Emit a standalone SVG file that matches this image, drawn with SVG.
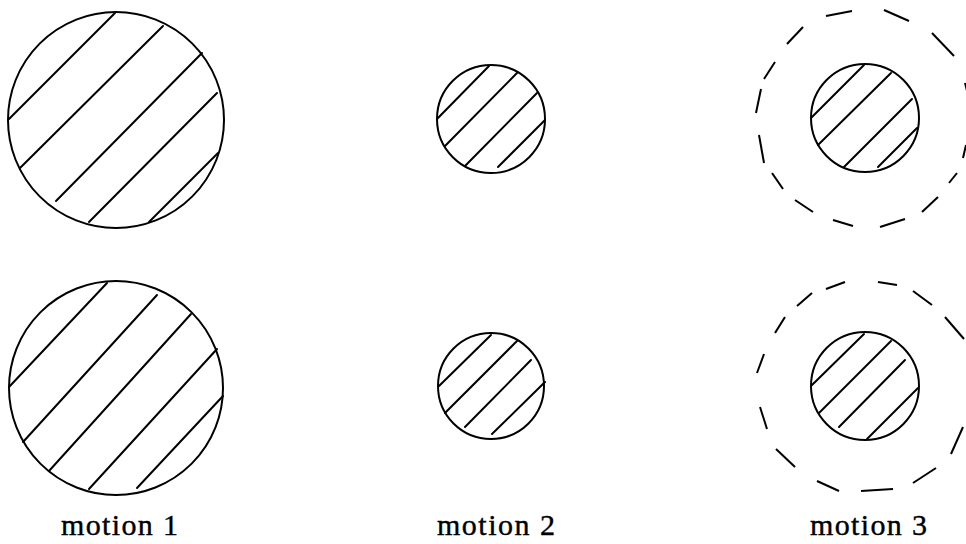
<svg xmlns="http://www.w3.org/2000/svg" width="966" height="544" viewBox="0 0 966 544">
<style>
.c{fill:none;stroke:#000;stroke-width:2}
.h line{stroke:#000;stroke-width:2;stroke-linecap:round}
.d line{stroke:#000;stroke-width:2;stroke-linecap:butt}
.t{font-family:"Liberation Serif","DejaVu Serif",serif;font-size:30px;fill:#000;stroke:#000;stroke-width:0.4}
</style>
<rect width="966" height="544" fill="#fff"/>
<g id="m1-top">
<circle class="c" cx="116" cy="120" r="108"/>
<g class="h">
<line x1="115" y1="13" x2="9" y2="119"/>
<line x1="163" y1="26" x2="20" y2="168"/>
<line x1="202" y1="53" x2="56" y2="201"/>
<line x1="217" y1="93" x2="89" y2="222"/>
<line x1="218" y1="153" x2="149" y2="222"/>
</g>
</g>
<g id="m1-bottom">
<circle class="c" cx="116" cy="388" r="107"/>
<g class="h">
<line x1="107" y1="283" x2="9" y2="387"/>
<line x1="157" y1="295" x2="23" y2="442"/>
<line x1="191" y1="314" x2="49" y2="471"/>
<line x1="217" y1="349" x2="89" y2="489"/>
<line x1="223" y1="396" x2="137" y2="488"/>
</g>
</g>
<g id="m2-top">
<circle class="c" cx="491" cy="119" r="54"/>
<g class="h">
<line x1="489" y1="66" x2="437" y2="119"/>
<line x1="517" y1="73" x2="445" y2="146"/>
<line x1="537" y1="93" x2="465" y2="166"/>
<line x1="545" y1="120" x2="498" y2="167"/>
</g>
</g>
<g id="m2-bottom">
<circle class="c" cx="491" cy="386" r="53"/>
<g class="h">
<line x1="491" y1="335" x2="439" y2="386"/>
<line x1="517" y1="341" x2="445" y2="413"/>
<line x1="531" y1="360" x2="465" y2="427"/>
<line x1="545" y1="382" x2="492" y2="434"/>
</g>
</g>
<g id="m3-top">
<circle class="c" cx="865" cy="118" r="54"/>
<g class="h">
<line x1="864" y1="65" x2="811" y2="118"/>
<line x1="891" y1="73" x2="818" y2="145"/>
<line x1="912" y1="99" x2="844" y2="167"/>
<line x1="917" y1="128" x2="878" y2="167"/>
</g>
<g class="d">
<line x1="826" y1="16" x2="852" y2="11"/>
<line x1="884" y1="10" x2="909" y2="21"/>
<line x1="932" y1="33" x2="954" y2="56"/>
<line x1="965" y1="83" x2="968" y2="95"/>
<line x1="966" y1="145" x2="963" y2="158"/>
<line x1="957" y1="173" x2="949" y2="183"/>
<line x1="938" y1="197" x2="922" y2="212"/>
<line x1="905" y1="219" x2="880" y2="227"/>
<line x1="853" y1="226" x2="833" y2="220"/>
<line x1="813" y1="212" x2="795" y2="200"/>
<line x1="783" y1="189" x2="772" y2="173"/>
<line x1="764" y1="163" x2="759" y2="135"/>
<line x1="756" y1="113" x2="761" y2="89"/>
<line x1="764" y1="79" x2="775" y2="62"/>
<line x1="787" y1="44" x2="803" y2="27"/>
</g>
</g>
<g id="m3-bottom">
<circle class="c" cx="865" cy="386" r="54"/>
<g class="h">
<line x1="864" y1="334" x2="812" y2="385"/>
<line x1="891" y1="341" x2="819" y2="413"/>
<line x1="905" y1="360" x2="839" y2="427"/>
<line x1="918" y1="388" x2="867" y2="439"/>
</g>
<g class="d">
<line x1="826" y1="289" x2="845" y2="282"/>
<line x1="878" y1="282" x2="897" y2="285"/>
<line x1="913" y1="291" x2="932" y2="305"/>
<line x1="945" y1="317" x2="964" y2="339"/>
<line x1="963" y1="427" x2="951" y2="454"/>
<line x1="936" y1="468" x2="913" y2="483"/>
<line x1="893" y1="489" x2="861" y2="491"/>
<line x1="839" y1="491" x2="817" y2="481"/>
<line x1="795" y1="467" x2="776" y2="449"/>
<line x1="767" y1="429" x2="760" y2="407"/>
<line x1="757" y1="373" x2="764" y2="354"/>
<line x1="775" y1="333" x2="785" y2="317"/>
<line x1="797" y1="306" x2="812" y2="293"/>
</g>
</g>
<g id="labels">
<text class="t" x="61" y="535" textLength="117" lengthAdjust="spacing">motion 1</text>
<text class="t" x="437" y="535" textLength="118" lengthAdjust="spacing">motion 2</text>
<text class="t" x="810" y="535" textLength="117" lengthAdjust="spacing">motion 3</text>
</g>
</svg>
